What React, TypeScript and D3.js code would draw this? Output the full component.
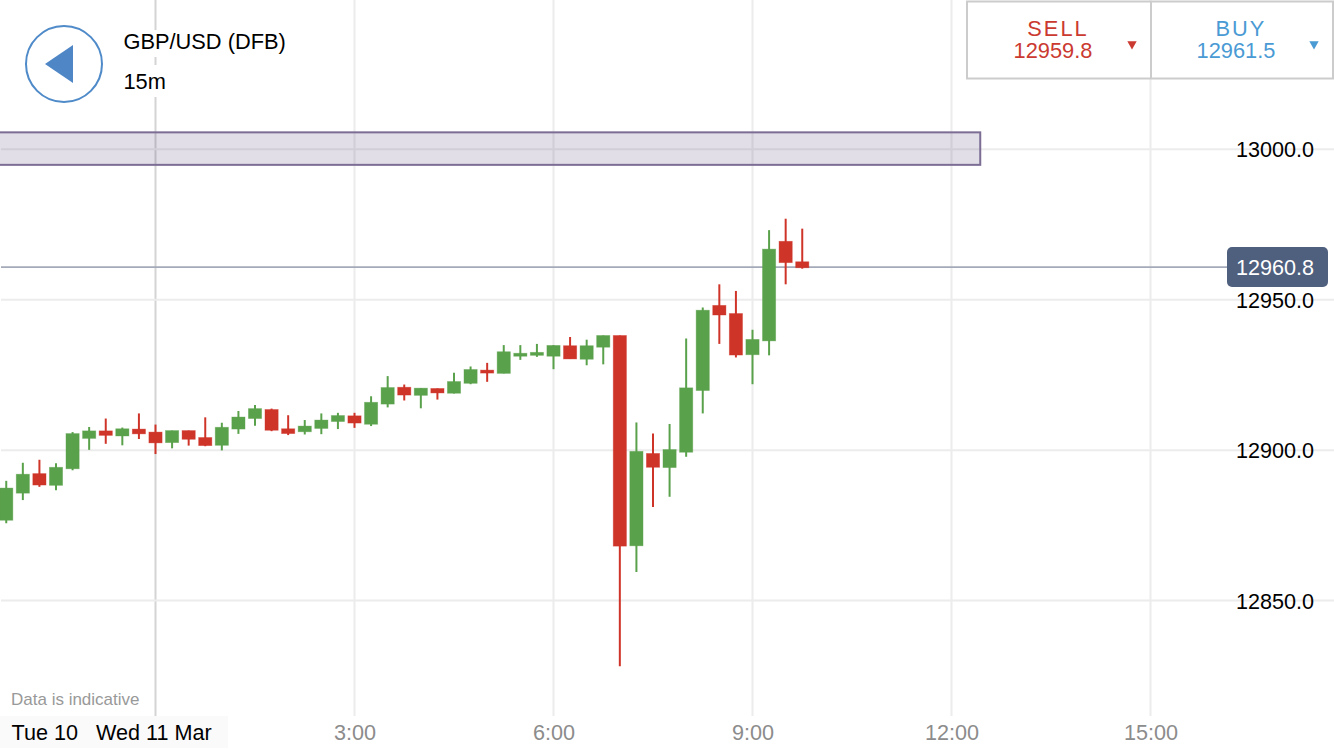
import {default as React, useEffect, useRef} from "react";
import * as d3 from "d3";

// minutes from midnight Wed 11 Mar, one 15m candle each
const times = [
    -135, -120, -105, -90, -75, -60, -45, -30, -15, 0,
    15, 30, 45, 60, 75, 90, 105, 120, 135, 150,
    165, 180, 195, 210, 225, 240, 255, 270, 285, 300,
    315, 330, 345, 360, 375, 390, 405, 420, 435, 450,
    465, 480, 495, 510, 525, 540, 555, 570, 585
];
const opens = [
    12876.7, 12885.7, 12892.2, 12888.3, 12893.8, 12903.9, 12906.4, 12904.7, 12907.0, 12906.0,
    12902.5, 12906.5, 12904.2, 12901.6, 12907.0, 12910.5, 12913.5, 12907.1, 12906.1, 12907.2,
    12909.5, 12911.4, 12908.6, 12915.3, 12920.9, 12918.2, 12920.5, 12918.9, 12922.2, 12926.6,
    12925.5, 12931.2, 12931.5, 12931.2, 12934.7, 12930.2, 12934.2, 12938.1, 12868.2, 12898.9,
    12894.2, 12899.3, 12919.8, 12948.1, 12945.4, 12931.7, 12936.3, 12969.4, 12962.6
];
const highs = [
    12889.8, 12895.8, 12896.8, 12895.6, 12906.0, 12907.7, 12910.5, 12907.5, 12912.2, 12908.5,
    12906.5, 12906.5, 12910.9, 12909.1, 12913.0, 12915.0, 12913.8, 12911.6, 12910.0, 12912.2,
    12912.4, 12912.4, 12917.9, 12924.6, 12921.8, 12920.6, 12920.5, 12925.7, 12927.8, 12929.0,
    12934.9, 12934.9, 12935.3, 12934.9, 12937.6, 12936.7, 12938.1, 12938.1, 12909.2, 12905.5,
    12908.7, 12937.1, 12947.4, 12955.1, 12952.9, 12940.0, 12973.1, 12976.9, 12973.6
];
const lows = [
    12875.7, 12883.4, 12887.8, 12886.7, 12893.3, 12900.1, 12902.1, 12901.6, 12903.7, 12898.7,
    12900.6, 12901.5, 12901.3, 12899.9, 12905.4, 12908.1, 12906.3, 12905.0, 12905.2, 12905.3,
    12907.0, 12907.4, 12908.0, 12914.2, 12916.5, 12913.9, 12916.8, 12918.8, 12921.9, 12922.7,
    12925.5, 12930.0, 12931.0, 12926.9, 12930.3, 12928.2, 12928.5, 12828.2, 12859.5, 12881.1,
    12884.5, 12897.8, 12912.2, 12935.3, 12930.8, 12921.9, 12931.5, 12955.1, 12960.3
];
const closes = [
    12887.4, 12892.0, 12888.4, 12894.3, 12905.5, 12906.4, 12904.9, 12907.1, 12905.4, 12902.4,
    12906.5, 12903.6, 12901.5, 12907.6, 12911.0, 12913.8, 12906.6, 12905.5, 12908.0, 12910.0,
    12911.5, 12909.0, 12915.9, 12920.8, 12918.3, 12920.6, 12919.0, 12922.8, 12926.8, 12925.6,
    12932.7, 12932.2, 12932.5, 12934.8, 12930.3, 12934.7, 12938.1, 12868.1, 12899.6, 12894.3,
    12900.2, 12920.7, 12946.5, 12944.9, 12931.6, 12936.8, 12966.8, 12962.3, 12960.6
];

const priceTicks = [13000, 12950, 12900, 12850];
const timeTicks = [0, 180, 360, 540, 720, 900];
const timeLabels = ["", "3:00", "6:00", "9:00", "12:00", "15:00"];

const zone = {top: 13005.6, bottom: 12994.8, start: -150, end: 746};
const currentPrice = 12960.8;
const sellPrice = "12959.8";
const buyPrice = "12961.5";

const width = 1334;
const height = 750;
const font = "'Liberation Sans', Arial, sans-serif";
const upColor = "#5aa14b";
const downColor = "#cf3429";

export default function App() {
    const containerRef = useRef<SVGSVGElement>(null);

    useEffect(() => {
        const svg = d3.select(containerRef.current);
        svg.selectAll("*").remove();

        const xScale = d3.scaleLinear().domain([0, 900]).range([155.5, 1150.5]);
        const yScale = d3.scaleLinear().domain([12850, 13000]).range([600.6, 149.2]);

        // grid lines
        svg.append("g").selectAll("line").data(timeTicks).join("line")
            .attr("x1", d => xScale(d)).attr("x2", d => xScale(d))
            .attr("y1", 0).attr("y2", 716)
            .attr("stroke", d => d === 0 ? "#d4d4d4" : "#ececec")
            .attr("stroke-width", 2);
        svg.append("g").selectAll("line").data(priceTicks).join("line")
            .attr("x1", 1).attr("x2", width)
            .attr("y1", d => yScale(d)).attr("y2", d => yScale(d))
            .attr("stroke", "#ececec")
            .attr("stroke-width", 2);

        // zone
        svg.append("rect")
            .attr("x", xScale(zone.start)).attr("y", yScale(zone.top))
            .attr("width", xScale(zone.end) - xScale(zone.start))
            .attr("height", yScale(zone.bottom) - yScale(zone.top))
            .attr("fill", "#5a4a7a").attr("fill-opacity", 0.18)
            .attr("stroke", "#7c6d94").attr("stroke-width", 2);

        // last price line
        svg.append("line")
            .attr("x1", 1).attr("x2", 1228)
            .attr("y1", yScale(currentPrice)).attr("y2", yScale(currentPrice))
            .attr("stroke", "#a4aab9").attr("stroke-width", 1.8);

        // candles
        const candles = times.map((t, i) => ({t, open: opens[i], high: highs[i], low: lows[i], close: closes[i]}));
        const candle = svg.append("g").selectAll("g").data(candles).join("g");
        const colorOf = (d: {open: number, close: number}) => d.close >= d.open ? upColor : downColor;
        candle.append("line")
            .attr("x1", d => xScale(d.t)).attr("x2", d => xScale(d.t))
            .attr("y1", d => yScale(d.high)).attr("y2", d => yScale(d.low))
            .attr("stroke", colorOf).attr("stroke-width", 2);
        candle.append("rect")
            .attr("x", d => xScale(d.t) - 6.6)
            .attr("width", 13.2)
            .attr("y", d => yScale(Math.max(d.open, d.close)))
            .attr("height", d => Math.abs(yScale(d.open) - yScale(d.close)))
            .attr("fill", colorOf)
            .attr("stroke", colorOf).attr("stroke-opacity", 0.45).attr("stroke-width", 0.8);

        // price axis
        const yAxis = svg.append("g")
            .attr("transform", "translate(1236,0)")
            .call(d3.axisRight(yScale).tickValues(priceTicks).tickSize(0).tickPadding(0).tickFormat(d3.format(".1f") as any));
        yAxis.select(".domain").remove();
        yAxis.selectAll("text")
            .attr("font-family", font).attr("font-size", 21.6).attr("fill", "#000").attr("dy", "0.36em");

        // bottom band
        svg.append("rect").attr("x", 0).attr("y", 716).attr("width", width).attr("height", 34).attr("fill", "#fff");
        const xAxis = svg.append("g")
            .attr("transform", "translate(0,740)")
            .call(d3.axisBottom(xScale).tickValues(timeTicks).tickSize(0).tickPadding(0)
                .tickFormat((_, i) => timeLabels[i]));
        xAxis.select(".domain").remove();
        xAxis.selectAll("text")
            .attr("font-family", font).attr("font-size", 21.6).attr("fill", "#8c8c8c").attr("y", 0).attr("dy", 0);
        svg.append("rect").attr("x", 0).attr("y", 716).attr("width", 228).attr("height", 32).attr("fill", "#fafafa");
        svg.append("text").attr("x", 11.5).attr("y", 740)
            .attr("font-family", font).attr("font-size", 21.6).attr("fill", "#000")
            .text("Tue 10");
        svg.append("text").attr("x", 96).attr("y", 740)
            .attr("font-family", font).attr("font-size", 21.6).attr("fill", "#000")
            .text("Wed 11 Mar");
        svg.append("text").attr("x", 11).attr("y", 705)
            .attr("font-family", font).attr("font-size", 17).attr("fill", "#999")
            .text("Data is indicative");

        // header
        svg.append("rect").attr("x", 118).attr("y", 30).attr("width", 172).attr("height", 27).attr("fill", "#fff");
        svg.append("rect").attr("x", 118).attr("y", 65).attr("width", 52).attr("height", 32).attr("fill", "#fff");
        svg.append("circle").attr("cx", 64).attr("cy", 64).attr("r", 38)
            .attr("fill", "#fff").attr("stroke", "#4f8ac9").attr("stroke-width", 2);
        svg.append("path").attr("d", "M45,64L73,45L73,83Z").attr("fill", "#4f86c6");
        svg.append("text").attr("x", 123.5).attr("y", 49)
            .attr("font-family", font).attr("font-size", 21.8).attr("fill", "#000")
            .text("GBP/USD (DFB)");
        svg.append("text").attr("x", 123.5).attr("y", 89)
            .attr("font-family", font).attr("font-size", 21.8).attr("fill", "#000")
            .text("15m");

        // sell / buy box
        svg.append("rect").attr("x", 967).attr("y", 1.5).attr("width", 366).attr("height", 77)
            .attr("fill", "#fff").attr("stroke", "#cccccc").attr("stroke-width", 2);
        svg.append("line").attr("x1", 1151).attr("x2", 1151).attr("y1", 1.5).attr("y2", 78.5)
            .attr("stroke", "#cccccc").attr("stroke-width", 2);
        const sides = [
            {label: "SELL", price: sellPrice, color: "#cb3a30", cx: 1058, cp: 1053, tri: 1132},
            {label: "BUY", price: buyPrice, color: "#4a9ad4", cx: 1241, cp: 1236, tri: 1314}
        ];
        sides.forEach(s => {
            svg.append("text").attr("x", s.cx).attr("y", 36).attr("text-anchor", "middle")
                .attr("font-family", font).attr("font-size", 21.8).attr("letter-spacing", 2).attr("fill", s.color)
                .text(s.label);
            svg.append("text").attr("x", s.cp).attr("y", 58).attr("text-anchor", "middle")
                .attr("font-family", font).attr("font-size", 21.8).attr("fill", s.color)
                .text(s.price);
            svg.append("path").attr("d", `M${s.tri - 4.7},41.3L${s.tri + 4.7},41.3L${s.tri},49.5Z`).attr("fill", s.color);
        });

        // last price tag
        svg.append("rect").attr("x", 1227).attr("y", 247).attr("width", 101).attr("height", 40).attr("rx", 5)
            .attr("fill", "#4f5f7e");
        svg.append("text").attr("x", 1236).attr("y", yScale(currentPrice) + 7.5)
            .attr("font-family", font).attr("font-size", 21.6).attr("fill", "#fff")
            .text(d3.format(".1f")(currentPrice));
    }, []);

    return (
        <svg
            ref={containerRef}
            width={width}
            height={height}
            style={{position: "fixed", left: 0, top: 0, backgroundColor: "white"}}
        />
    );
}
